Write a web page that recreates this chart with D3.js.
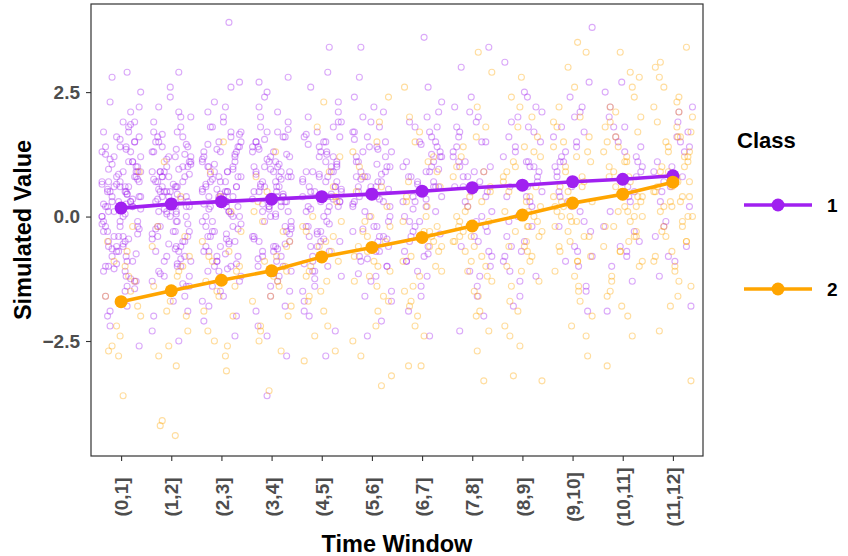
<!DOCTYPE html>
<html>
<head>
  <title>Simulated Value by Time Window</title>
  <style>
    body { margin: 0; background: #fff; }
    text { font-family: "Liberation Sans", Arial, Helvetica, sans-serif; }
    .axis-x text, .axis-y text { font-size: 19px; font-weight: bold; fill: #4d4d4d; }
    .axis-x line, .axis-y line { stroke: #333; stroke-width: 1.1; }
    .axis-title { font-size: 23.5px; font-weight: bold; fill: #000; }
    .legend-title { font-size: 22px; font-weight: bold; }
    .legend-label { font-size: 19px; font-weight: bold; }
  </style>
</head>
<body>
  <svg id="chart" width="848" height="556"></svg>

  <script src="https://d3js.org/d3.v7.min.js"></script>
  <script>
    // categories
    const windows = ["(0,1]", "(1,2]", "(2,3]", "(3,4]", "(4,5]", "(5,6]",
                     "(6,7]", "(7,8]", "(8,9]", "(9,10]", "(10,11]", "(11,12]"];
    const classes = ["1", "2"];

    // mean line per class
    const meanClass1 = [0.17, 0.25, 0.30, 0.35, 0.40, 0.45, 0.51, 0.58, 0.63, 0.70, 0.75, 0.82];
    const meanClass2 = [-1.71, -1.49, -1.28, -1.09, -0.81, -0.62, -0.42, -0.19, 0.03, 0.27, 0.45, 0.69];

    // y ticks
    const yTicks = [-2.5, 0, 2.5];
    const yTickLabels = ["\u22122.5", "0.0", "2.5"];

    // raw observations, class 1, one array per window
    const obsClass1 = [
      [0.2,-0.4,1.1,0.7,-1.3,0.5,-0.1,1.6,0.9,-0.8,2.9,0.3,-0.6,1.4,0.0,-1.1,0.8,2.3,-0.3,0.6,
       -1.7,1.2,0.4,-0.2,1.9,-0.9,0.1,1.5,-0.5,0.7,-2.6,1.0,0.3,-1.4,2.1,-0.7,0.5,1.3,-0.1,0.9,
       -1.9,0.2,1.7,-0.4,0.6,2.5,-1.0,0.0,1.1,-0.6,0.8,-1.5,1.4,0.4,-0.2,2.8,-0.9,0.3,1.6,-1.2,
       0.7,-0.3,1.0,-2.2,0.5,1.8,-0.7,0.1,1.2,-1.6,0.9,0.2,-0.5,1.5,-1.1,0.6,2.2,-0.1,0.4,-1.8,
       1.3,0.8,-0.8,0.0,1.7,-1.3,0.5,-2.0,1.1,0.3,-0.4,0.9,1.4,-0.6,0.2,-1.0,1.9,0.6,-0.2,0.7,
       -0.35,1.05,0.45,-1.25,0.65,1.35,-0.15,0.25,-0.75,1.15,0.55,-0.45,0.85,-1.05,0.15,1.25,
       -0.55,0.35,0.95,-1.45,0.05,1.55,-0.25,0.75,-0.65,0.45,1.85,-0.95,0.25,0.65],
      [-0.3,1.4,0.6,-1.0,2.0,0.1,-0.6,0.9,1.7,-1.4,0.5,-0.2,2.9,0.8,-0.9,1.2,0.3,-1.7,0.7,1.5,
       -0.5,0.2,2.4,-1.2,1.0,0.4,-0.1,1.8,-0.8,0.6,-2.3,1.3,0.0,0.9,-0.4,2.1,-1.5,0.5,1.1,-0.7,
       0.3,1.6,-1.1,0.8,-0.3,2.6,0.2,-1.9,1.4,0.6,-0.6,1.0,0.1,-1.3,1.9,0.4,-0.2,0.7,-2.5,1.2,
       0.9,-0.9,1.5,0.3,-0.5,2.2,-1.6,0.6,0.0,1.1,-0.4,0.8,1.7,-1.0,0.5,-0.1,1.3,-2.0,0.2,0.9,
       1.6,-0.7,0.4,-1.2,2.0,0.7,-0.3,1.0,0.1,-0.8,1.2,0.5,-1.4,0.3,0.8,
       0.45,-0.85,1.15,0.05,-0.35,0.75,1.45,-1.15,0.35,0.95,-0.55,0.15,1.05,-0.25,0.65,-1.35,
       0.55,1.25,-0.65,0.25,0.85,-0.15,1.65,-0.95,0.35,0.05,1.35,-0.45],
      [0.5,-0.7,1.3,0.2,-1.1,3.9,0.8,-0.3,1.7,0.0,-1.6,1.0,0.4,-0.5,2.2,0.7,-1.3,1.4,-0.1,0.9,
       2.6,-0.9,0.3,1.1,-2.1,0.6,1.8,-0.4,0.1,1.5,-1.0,0.8,-0.2,2.0,0.4,-1.8,1.2,0.5,-0.6,2.7,
       0.2,-1.4,0.9,1.6,-0.8,0.3,-0.1,1.3,-2.0,0.7,1.0,-0.5,0.4,2.3,-1.2,0.6,1.9,0.0,-0.7,1.1,
       0.3,-1.5,1.4,0.8,-0.3,0.5,1.7,-0.9,0.2,-1.7,1.2,0.6,-0.4,2.1,0.1,-1.1,0.9,1.5,-0.6,0.4,
       -0.2,1.0,-2.4,0.7,1.3,0.0,-0.8,1.8,0.5,-1.0,
       0.55,-0.35,1.15,0.25,-0.95,0.85,1.45,-0.55,0.35,1.05,-0.15,0.65,-1.25,0.95,0.15,1.25,
       -0.75,0.45,1.65,-0.25,0.75,-1.05,0.05,1.35,-0.45,0.55],
      [0.6,-0.2,1.5,0.9,-1.0,2.7,0.3,-0.6,1.2,-1.5,0.8,0.1,2.1,-0.8,1.7,0.4,-0.4,1.0,-2.8,0.6,
       1.4,-1.2,0.2,2.4,-0.1,0.9,-0.7,1.6,0.5,-1.8,1.1,0.0,-0.5,1.9,0.7,-1.3,0.3,2.5,-0.9,1.3,
       0.5,-0.3,1.8,-2.2,0.8,0.2,1.0,-1.1,1.5,-0.6,0.4,2.2,-0.2,0.7,-1.6,1.2,0.1,-0.8,1.7,0.9,
       -3.6,0.5,1.4,-0.4,0.3,2.0,-1.0,0.6,1.1,-0.1,0.8,-1.9,1.3,0.4,-0.5,1.6,0.0,-1.4,0.9,2.8,
       -0.7,1.0,0.2,-2.4,0.6,
       0.35,-0.45,1.25,0.65,-0.85,1.05,0.15,1.55,-0.25,0.85,-1.15,0.45,1.35,-0.55,0.05,0.95,
       -0.35,1.75,0.25,-0.65,0.75,1.15],
      [0.7,-0.3,1.6,0.2,-1.1,2.9,0.9,-0.6,1.3,0.4,-1.7,1.0,0.5,-0.2,3.4,0.8,-1.4,1.9,0.1,-0.8,
       1.2,0.6,-2.3,1.5,0.3,-0.5,2.3,0.9,-1.0,0.4,1.7,-0.1,0.7,-1.9,1.1,2.6,0.2,-0.7,1.4,0.5,
       -1.2,0.9,0.0,1.8,-0.4,0.6,-2.8,1.3,0.3,2.1,-0.9,0.8,1.0,-0.3,0.4,-1.5,1.6,0.7,-0.6,2.0,
       0.2,1.2,-1.1,0.5,-0.2,1.5,0.9,-2.0,0.6,1.1,-0.5,0.3,1.9,-0.8,0.1,
       0.45,-0.35,1.25,0.75,-0.95,1.05,0.15,1.45,-0.15,0.85,-1.25,0.55,1.65,-0.45,0.35],
      [0.8,-0.2,1.7,0.3,-1.0,3.4,0.6,-0.7,1.4,0.1,-1.5,1.1,0.5,-0.4,2.8,0.9,-1.2,1.9,0.2,-0.6,
       1.3,0.7,-2.1,1.6,0.4,-0.3,2.4,1.0,-0.9,0.5,1.8,0.0,0.8,-1.7,1.2,2.2,0.3,-0.8,1.5,0.6,
       -1.3,1.0,-0.1,2.0,-0.5,0.7,-2.4,1.4,0.2,1.7,-1.0,0.9,1.1,-0.4,0.5,-1.6,1.3,0.8,-0.2,2.1,
       0.4,1.2,-0.7,0.6,0.0,
       0.55,-0.25,1.35,0.85,-0.85,1.05,0.25,1.55,-0.45,0.75,-1.15,0.35],
      [0.9,-0.1,1.8,0.4,-0.9,3.6,0.7,-0.5,1.5,0.2,-1.4,1.2,0.6,-0.3,2.6,1.0,-1.1,2.0,0.3,-0.7,
       1.4,0.8,-1.9,1.7,0.5,-0.2,2.3,1.1,-0.8,0.6,1.9,0.1,0.9,-1.6,1.3,2.1,0.4,-0.6,1.6,0.7,
       -1.2,1.0,0.0,1.8,-0.4,0.8,-2.4,1.5,0.3,1.2,-0.9,0.5,1.1,-0.1,0.6,
       0.35,1.45,-0.35,0.95,0.15,-0.75,1.25,0.65],
      [1.0,-0.2,1.9,0.5,-1.0,3.4,0.8,-0.5,1.5,0.2,-1.4,1.2,0.6,-0.3,3.0,1.1,-1.2,2.1,0.3,-0.8,
       1.4,0.9,-2.0,1.7,0.4,-0.1,2.4,1.0,-0.7,0.6,2.0,0.0,0.8,-1.6,1.3,2.2,0.5,-0.6,1.6,0.7,
       -1.1,1.1,0.1,1.8,-0.4,0.9,-2.3,1.5],
      [1.1,-0.2,2.0,0.6,-0.9,3.1,0.8,-0.6,1.6,0.3,-1.3,1.3,0.5,-0.4,2.5,1.0,-1.1,2.2,0.4,-0.7,
       1.5,0.9,-1.8,1.8,0.2,0.0,2.4,1.2,-0.8,0.7,1.9,-0.1,1.0,-1.6,1.4,2.1,0.4,-0.5,1.7,0.6,
       -1.2,1.1],
      [1.2,-0.2,2.1,0.7,-0.9,3.8,0.9,-0.6,1.7,0.4,-1.4,1.4,0.6,-0.3,2.7,1.1,-1.0,2.2,0.3,-0.7,
       1.6,1.0,-1.9,1.8,0.5,0.1,2.4,1.3,-0.8,0.8,2.0,-0.1,1.1,-1.5,1.5,0.2],
      [1.3,-0.3,2.2,0.8,-0.8,2.7,0.9,-0.5,1.8,0.4,-1.3,1.5,0.6,-0.2,2.5,1.1,-1.0,2.0,0.3,-0.6,
       1.6,1.0,-1.9,1.8,0.5,0.1,1.2,-0.7,0.7,1.4],
      [1.4,-0.2,2.1,0.8,-0.8,1.9,0.9,-0.4,1.7,0.5,-1.2,1.5,0.6,-0.1,2.2,1.1,-0.9,1.3,0.3,-0.6,
       1.6,1.0,-1.8,0.2,0.7]
    ];

    // raw observations, class 2, one array per window
    const obsClass2 = [
      [-0.5,-1.2,-2.8,-0.9,-2.0,-1.6,-3.6,-0.2,-2.7,-1.3,-1.0,-2.4,0.9,-1.8,-2.6,-0.7,-1.5,-2.2],
      [-1.0,-2.8,-0.4,-4.4,-1.7,-0.8,-2.3,-4.1,-1.2,0.4,-1.9,-3.0,-0.6,-1.4,-2.0,-4.2,-0.2,-1.1,-2.6,1.1],
      [-0.9,-2.6,0.1,-1.5,-3.1,-0.5,-1.9,-1.1,0.9,-2.3,-0.7,-1.6,-2.5,-0.3,-1.3,1.5,-2.0,-0.8,-1.4,-2.8,0.4,-1.0],
      [-0.6,-2.2,0.3,-1.4,-3.5,-0.9,-1.8,0.8,-1.2,-0.3,-2.5,-1.0,1.3,-1.6,-0.5,-2.0,-0.1,-1.3,-2.7,0.5,
       -0.8,-1.7,0.1,-1.1,-2.3],
      [-0.3,-1.9,0.6,-1.1,-2.7,-0.5,-1.5,1.2,-0.9,0.0,-2.2,-0.7,1.8,-1.3,-0.2,-2.9,0.3,-1.0,-1.7,0.9,
       -0.6,-2.4,-0.1,-1.2,2.3,-0.4,-1.6,0.4],
      [-0.2,-1.7,0.8,-1.0,-3.4,-0.4,-1.4,1.3,-0.8,0.2,-2.8,-0.6,1.9,-1.2,-0.1,-3.2,0.5,-0.9,-1.6,1.0,
       -0.5,-2.2,0.0,-1.1,2.4,-0.3,-1.9,0.6,-0.7,1.5,-2.5,-1.3],
      [-0.1,-1.5,0.9,-0.8,-3.0,-0.3,-1.2,1.5,-0.6,0.3,-2.4,-0.5,2.0,-1.0,0.0,-3.0,0.6,-0.7,-1.4,1.1,
       -0.4,-2.0,0.2,-0.9,2.6,-0.2,-1.7,0.7,-0.6,1.7,-2.2,-1.1,0.4,-0.3,1.2,-1.8],
      [0.1,-1.3,1.0,-0.6,-3.3,-0.1,-1.0,1.6,-0.4,0.5,-2.3,-0.3,3.3,-0.8,0.2,-2.7,0.8,-0.5,-1.2,1.2,
       -0.2,-1.9,0.4,-0.7,2.9,0.0,-1.5,0.9,-0.4,1.8,-2.0,-0.9,0.6,-0.1,1.4,-1.6,0.3,-1.1,2.2,-0.5],
      [0.3,-1.1,1.2,-0.4,-3.2,0.1,-0.8,1.8,-0.2,0.7,-2.2,-0.1,2.4,-0.6,0.4,-2.6,1.0,-0.3,-1.0,1.4,
       0.0,-1.7,0.6,-0.5,2.8,0.2,-1.3,1.1,-0.2,2.0,-1.9,-0.7,0.8,0.1,1.6,-1.4,0.5,-0.9,2.2,-0.3,
       -3.3,0.9,-0.6,1.3,-2.4],
      [0.5,-0.9,1.4,-0.2,-2.8,0.3,-0.6,2.0,0.0,0.9,-2.0,0.1,2.6,-0.4,0.6,-2.4,1.2,-0.1,-0.8,1.6,
       0.2,-1.5,0.8,-0.3,3.5,0.4,-1.1,1.3,0.0,2.2,-1.7,-0.5,1.0,0.3,1.8,-1.2,0.7,-0.7,3.3,-0.1,
       -2.2,1.1,-0.4,1.5,-1.4,0.6,3.0,-0.9,1.9,0.2],
      [0.7,-0.7,1.6,0.0,-3.0,0.5,-0.4,2.2,0.2,1.1,-1.8,0.3,2.8,-0.2,0.8,-2.4,1.4,0.1,-0.6,1.8,
       0.4,-1.3,1.0,-0.1,3.3,0.6,-0.9,1.5,0.2,2.4,-1.5,-0.3,1.2,0.5,2.0,-1.0,0.9,-0.5,2.6,0.1,
       -2.0,1.3,-0.2,1.7,-1.2,0.8,2.9,-0.7,2.1,0.4,-1.6,1.1,0.0,1.9,-0.4],
      [0.9,-0.5,1.8,0.2,-3.3,0.7,-0.2,2.4,0.4,1.3,-1.6,0.5,3.0,0.0,1.0,-2.3,1.6,0.3,-0.4,2.0,
       0.6,-1.1,1.2,0.1,3.4,0.8,-0.7,1.7,0.4,2.6,-1.3,-0.1,1.4,0.7,2.2,-0.8,1.1,-0.3,2.8,0.3,
       -1.8,1.5,0.0,1.9,-1.0,1.0,3.1,-0.5,2.3,0.6,-1.4,1.3,0.2,2.1,-0.2,0.9,1.6,-0.9,0.5,1.2]
    ];

    // fixed horizontal jitter pattern (fraction of one window step)
    const jitterPattern = [-0.31, 0.12, -0.05, 0.36, -0.22, 0.27, -0.38, 0.04, 0.19, -0.14, 0.33, -0.27,
                           0.08, -0.35, 0.23, -0.09, 0.39, -0.18, 0.15, -0.02, 0.30, -0.25, 0.10];

    const colors = { "1": "#A020F0", "2": "#FFA500" };

    const width = 848;
    const height = 556;
    const panel = { left: 91, right: 703, top: 4, bottom: 456 };

    const svg = d3.select("#chart")
                  .attr("width", width)
                  .attr("height", height);

    const xScale = d3.scalePoint()
                     .domain(windows)
                     .range([panel.left, panel.right])
                     .padding(0.6);

    const yScale = d3.scaleLinear()
                     .domain([-4.81, 4.27])
                     .range([panel.bottom, panel.top]);

    // scatter points
    const obs = [];
    [obsClass1, obsClass2].forEach((byWindow, c) => {
      byWindow.forEach((vals, w) => {
        vals.forEach((v, k) => {
          const dx = jitterPattern[(k * 7 + w * 3 + c * 11) % jitterPattern.length];
          obs.push({ cls: classes[c], win: windows[w], value: v, dx: dx });
        });
      });
    });

    svg.append("g")
       .selectAll("circle")
       .data(obs)
       .enter().append("circle")
       .attr("cx", d => xScale(d.win) + d.dx * xScale.step())
       .attr("cy", d => yScale(d.value))
       .attr("r", 3)
       .attr("fill", "none")
       .attr("stroke", d => colors[d.cls])
       .attr("stroke-opacity", 0.38)
       .attr("stroke-width", 1.1);

    // mean lines
    const meanSeries = [
      { cls: "1", values: meanClass1 },
      { cls: "2", values: meanClass2 }
    ];
    const line = d3.line()
                   .x((d, i) => xScale(windows[i]))
                   .y(d => yScale(d));

    meanSeries.forEach(s => {
      svg.append("path")
         .datum(s.values)
         .attr("fill", "none")
         .attr("stroke", colors[s.cls])
         .attr("stroke-width", 3.6)
         .attr("d", line);
      svg.append("g")
         .selectAll("circle")
         .data(s.values)
         .enter().append("circle")
         .attr("cx", (d, i) => xScale(windows[i]))
         .attr("cy", d => yScale(d))
         .attr("r", 6.5)
         .attr("fill", colors[s.cls]);
    });

    // panel border
    svg.append("rect")
       .attr("x", panel.left)
       .attr("y", panel.top)
       .attr("width", panel.right - panel.left)
       .attr("height", panel.bottom - panel.top)
       .attr("fill", "none")
       .attr("stroke", "#333")
       .attr("stroke-width", 1.2);

    // axes
    const xAxis = svg.append("g")
       .attr("class", "axis-x")
       .attr("transform", `translate(0, ${panel.bottom})`)
       .call(d3.axisBottom(xScale).tickSize(5).tickSizeOuter(0));
    xAxis.select(".domain").remove();
    xAxis.selectAll("text")
         .attr("transform", "rotate(-90)")
         .attr("x", -41)
         .attr("y", 0)
         .attr("dy", "0.35em")
         .attr("text-anchor", "middle");

    const yAxis = svg.append("g")
       .attr("class", "axis-y")
       .attr("transform", `translate(${panel.left}, 0)`)
       .call(d3.axisLeft(yScale)
               .tickValues(yTicks)
               .tickFormat((d, i) => yTickLabels[i])
               .tickSize(5)
               .tickPadding(6)
               .tickSizeOuter(0));
    yAxis.select(".domain").remove();

    // axis titles
    svg.append("text")
       .attr("class", "axis-title")
       .attr("x", (panel.left + panel.right) / 2)
       .attr("y", 552)
       .attr("text-anchor", "middle")
       .text("Time Window");

    svg.append("text")
       .attr("class", "axis-title")
       .attr("transform", `translate(31, ${(panel.top + panel.bottom) / 2}) rotate(-90)`)
       .attr("text-anchor", "middle")
       .text("Simulated Value");

    // legend
    const legend = svg.append("g").attr("transform", "translate(737, 0)");
    legend.append("text")
          .attr("class", "legend-title")
          .attr("x", 0)
          .attr("y", 148)
          .text("Class");

    const keys = legend.selectAll(".key")
                       .data(classes)
                       .enter().append("g")
                       .attr("class", "key")
                       .attr("transform", (d, i) => `translate(0, ${205 + i * 84})`);
    keys.append("line")
        .attr("x1", 7).attr("x2", 75)
        .attr("y1", 0).attr("y2", 0)
        .attr("stroke", d => colors[d])
        .attr("stroke-width", 3.6);
    keys.append("circle")
        .attr("cx", 41).attr("cy", 0)
        .attr("r", 6.5)
        .attr("fill", d => colors[d]);
    keys.append("text")
        .attr("class", "legend-label")
        .attr("x", 90)
        .attr("y", 0)
        .attr("dy", "0.36em")
        .text(d => d);
  </script>
</body>
</html>
